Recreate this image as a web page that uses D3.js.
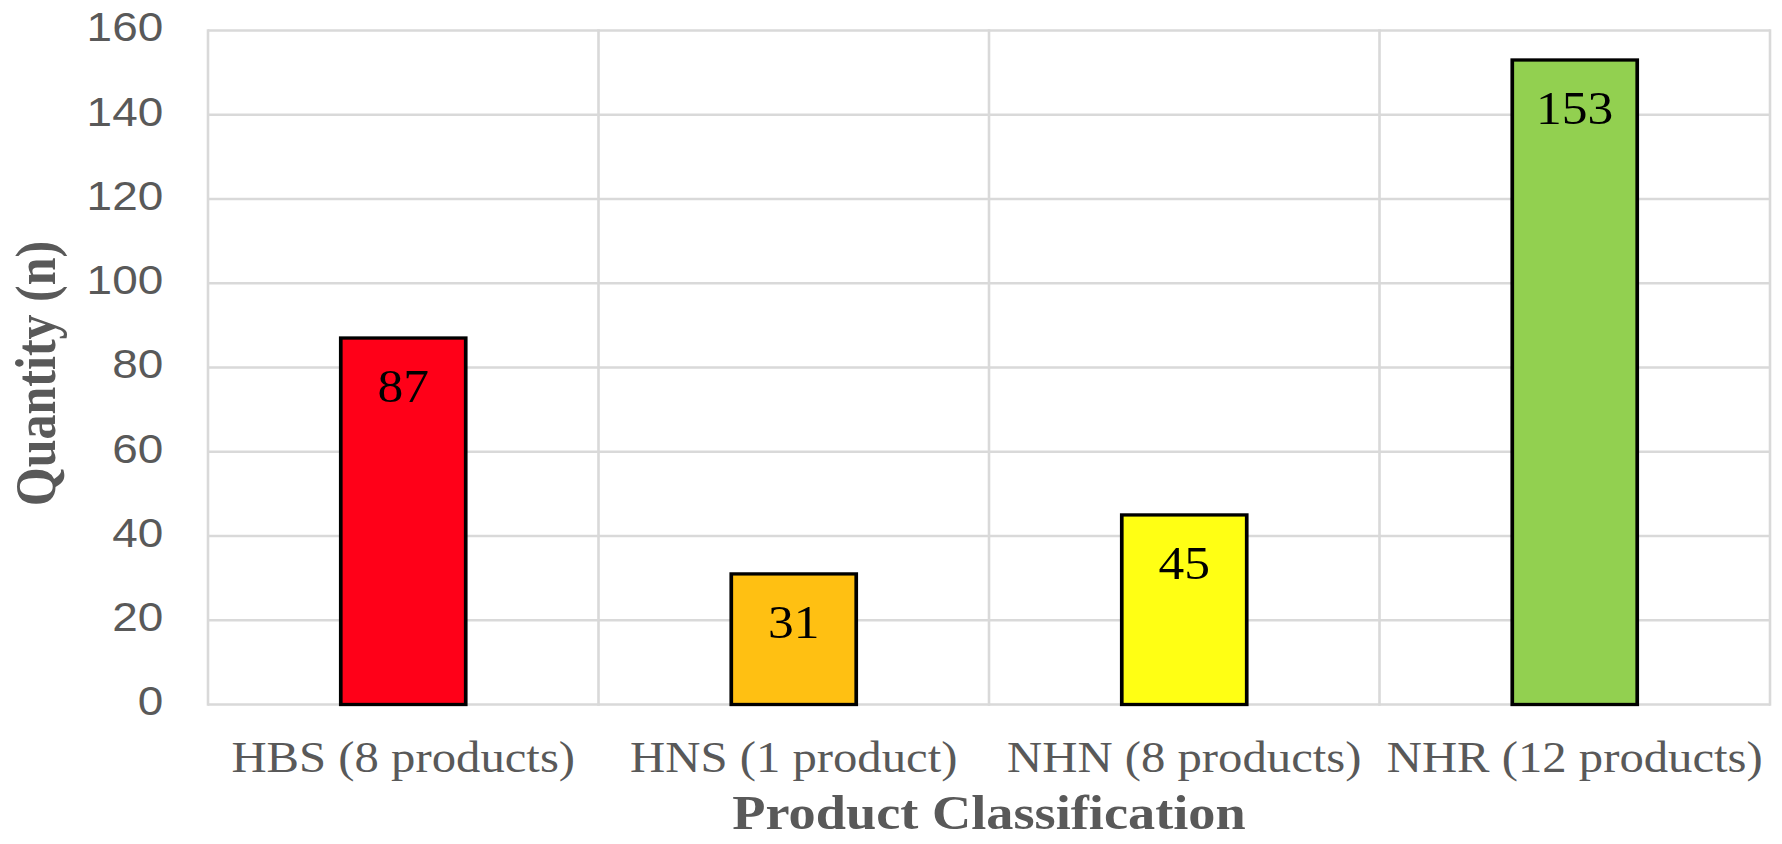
<!DOCTYPE html>
<html>
<head>
<meta charset="utf-8">
<script src="https://cdn.jsdelivr.net/npm/d3@7"></script>
<style>
  html, body { margin: 0; padding: 0; background: #ffffff; }
  svg { display: block; }
</style>
</head>
<body>
<svg id="chart" width="1782" height="844"></svg>
<script>
const categories = ["HBS (8 products)", "HNS (1 product)", "NHN (8 products)", "NHR (12 products)"];
const values = [87, 31, 45, 153];
const barColors = ["#FF0018", "#FFC012", "#FFFF14", "#92D050"];
const yTicks = [0, 20, 40, 60, 80, 100, 120, 140, 160];
const xTitle = "Product Classification";
const yTitle = "Quantity (n)";

const SX = 1.12; // horizontal stretch of the reference image
const svg = d3.select("#chart");
const g = svg.append("g").attr("transform", `scale(${SX},1)`);

const x = d3.scaleBand().domain(categories).range([208 / SX, 1770 / SX]).padding(0);
const y = d3.scaleLinear().domain([0, 160]).range([704.5, 30.5]);
const [x0, x1] = x.range();

const gridColor = "#D9D9D9";
const textGrey = "#595959";

// horizontal gridlines
g.append("g").selectAll("line").data(yTicks).join("line")
  .attr("x1", x0).attr("x2", x1)
  .attr("y1", d => y(d)).attr("y2", d => y(d))
  .attr("stroke", gridColor).attr("stroke-width", 2.6);

// vertical gridlines at category boundaries
const bounds = categories.map(c => x(c)).concat([x1]);
g.append("g").selectAll("line").data(bounds).join("line")
  .attr("x1", d => d).attr("x2", d => d)
  .attr("y1", y(160) - 1.3).attr("y2", y(0) + 1.3)
  .attr("stroke", gridColor).attr("stroke-width", 2.6 / SX);

// y axis
const yAxis = g.append("g").attr("transform", `translate(${x0},0)`)
  .call(d3.axisLeft(y).tickValues(yTicks).tickSize(0).tickPadding(40));
yAxis.select(".domain").remove();
yAxis.selectAll("text")
  .attr("dy", "0.25em")
  .attr("fill", textGrey)
  .style("font-family", "'Liberation Sans', Arial, sans-serif")
  .style("font-size", "41px");

// x axis labels
const xAxis = g.append("g").attr("transform", `translate(0,${y(0)})`)
  .call(d3.axisBottom(x).tickSize(0));
xAxis.select(".domain").remove();
xAxis.selectAll("text")
  .attr("y", 67.5).attr("dy", null)
  .attr("fill", textGrey)
  .style("font-family", "'Liberation Serif', 'Times New Roman', serif")
  .style("font-size", "43.5px");

// bars
const bw = x.bandwidth() * 0.32;
const data = categories.map((c, i) => ({ c, v: values[i], color: barColors[i] }));
g.append("g").selectAll("rect").data(data).join("rect")
  .attr("x", d => x(d.c) + (x.bandwidth() - bw) / 2)
  .attr("width", bw)
  .attr("y", d => y(d.v))
  .attr("height", d => y(0) - y(d.v))
  .attr("fill", d => d.color)
  .attr("stroke", "#000000")
  .attr("stroke-width", 3.3);

// data labels
g.append("g").selectAll("text").data(data).join("text")
  .attr("x", d => x(d.c) + x.bandwidth() / 2)
  .attr("y", d => y(d.v) + 64)
  .attr("text-anchor", "middle")
  .attr("fill", "#000000")
  .style("font-family", "'Liberation Serif', 'Times New Roman', serif")
  .style("font-size", "46px")
  .text(d => d.v);

// x title
g.append("text")
  .attr("x", (x0 + x1) / 2)
  .attr("y", 829)
  .attr("text-anchor", "middle")
  .attr("fill", textGrey)
  .style("font-family", "'Liberation Serif', 'Times New Roman', serif")
  .style("font-weight", "bold")
  .style("font-size", "48.5px")
  .text(xTitle);

// y title
g.append("text")
  .attr("transform", `translate(${55 / SX},${373.5}) rotate(-90)`)
  .attr("text-anchor", "middle")
  .attr("fill", textGrey)
  .style("font-family", "'Liberation Serif', 'Times New Roman', serif")
  .style("font-weight", "bold")
  .style("font-size", "50px")
  .text(yTitle);
</script>
</body>
</html>
